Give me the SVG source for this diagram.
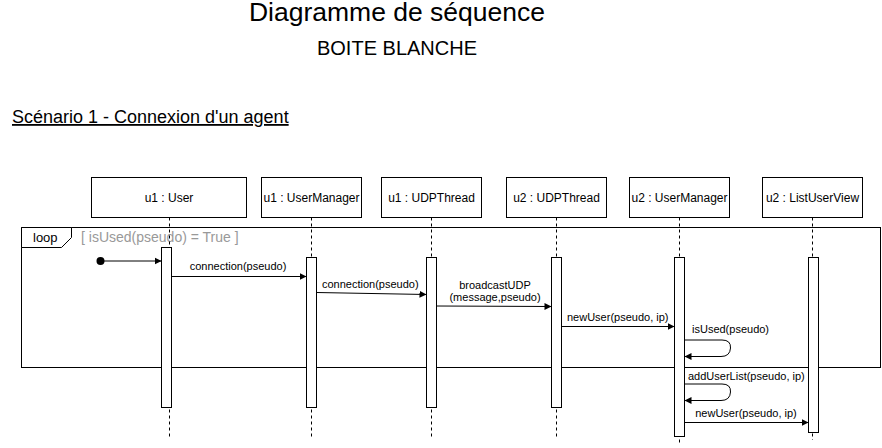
<svg xmlns="http://www.w3.org/2000/svg" width="882" height="448" viewBox="0 0 882 448">
<defs>
<style>
text{font-family:"Liberation Sans",Arial,Helvetica,sans-serif;fill:#000}
.box{fill:#fff;stroke:#000;stroke-width:1}
.life{stroke:#000;stroke-width:1;stroke-dasharray:3 3;fill:none}
.bar{fill:#fff;stroke:#000;stroke-width:1}
.nt{font-size:12px;text-anchor:middle}
.msg{stroke:#000;stroke-width:1;fill:none;marker-end:url(#ah)}
.ml{font-size:11px}
</style>
<marker id="ah" viewBox="0 0 8 8" refX="7" refY="4" markerWidth="8" markerHeight="8" markerUnits="userSpaceOnUse" orient="auto">
<path d="M0,0.5 L7,4 L0,7.5 Z" fill="#000"/>
</marker>
</defs>
<rect width="882" height="448" fill="#fff"/>
<text x="397" y="21" font-size="26.5" text-anchor="middle">Diagramme de séquence</text>
<text x="397" y="55" font-size="20" text-anchor="middle">BOITE BLANCHE</text>
<text x="12" y="123" font-size="18" text-decoration="underline">Scénario 1 - Connexion d'un agent</text>

<g id="frame-loop">
<rect x="21.5" y="227.5" width="859" height="140" fill="none" stroke="#000"/>
<path d="M21.5,227.5 L71.5,227.5 L71.5,237.5 L61.5,247.5 L21.5,247.5 Z" fill="#fff" stroke="#000"/>
<text x="33" y="242" font-size="13">loop</text>
<text x="81" y="242" font-size="14" style="fill:#999">[ isUsed(pseudo) = True ]</text>
</g>

<g id="u1-user">
<rect class="box" x="91.5" y="177.5" width="155" height="40"/>
<text class="nt" x="169" y="201.5">u1 : User</text>
<line class="life" x1="169.5" y1="217.5" x2="169.5" y2="437"/>
<rect class="bar" x="161.5" y="247.5" width="10" height="160"/>
</g>
<g id="u1-usermanager">
<rect class="box" x="261.5" y="177.5" width="100" height="40"/>
<text class="nt" x="311.5" y="201.5">u1 : UserManager</text>
<line class="life" x1="311.5" y1="217.5" x2="311.5" y2="437"/>
<rect class="bar" x="306.5" y="257.5" width="10" height="150"/>
</g>
<g id="u1-udpthread">
<rect class="box" x="381.5" y="177.5" width="100" height="40"/>
<text class="nt" x="431.5" y="201.5">u1 : UDPThread</text>
<line class="life" x1="431.5" y1="217.5" x2="431.5" y2="437"/>
<rect class="bar" x="426.5" y="257.5" width="10" height="150"/>
</g>
<g id="u2-udpthread">
<rect class="box" x="506.5" y="177.5" width="100" height="40"/>
<text class="nt" x="556.5" y="201.5">u2 : UDPThread</text>
<line class="life" x1="556.5" y1="217.5" x2="556.5" y2="437"/>
<rect class="bar" x="551.5" y="257.5" width="10" height="150"/>
</g>
<g id="u2-usermanager">
<rect class="box" x="629.5" y="177.5" width="100" height="40"/>
<text class="nt" x="679.5" y="201.5">u2 : UserManager</text>
<line class="life" x1="679.5" y1="217.5" x2="679.5" y2="444"/>
<rect class="bar" x="674.5" y="257.5" width="10" height="179"/>
</g>
<g id="u2-listuserview">
<rect class="box" x="762.5" y="177.5" width="100" height="40"/>
<text class="nt" x="812.5" y="201.5">u2 : ListUserView</text>
<line class="life" x1="812.5" y1="217.5" x2="812.5" y2="440"/>
<rect class="bar" x="808.5" y="257.5" width="10" height="175"/>
</g>

<g id="connectors">
<circle cx="100.5" cy="261" r="4" fill="#000"/>
<line class="msg" x1="100.5" y1="261" x2="161.5" y2="261"/>
<line class="msg" x1="171.5" y1="276.5" x2="306.5" y2="276.5"/>
<text class="ml" x="238" y="270" text-anchor="middle">connection(pseudo)</text>
<line class="msg" x1="316.5" y1="292.5" x2="426.5" y2="294.5"/>
<text class="ml" x="322" y="288">connection(pseudo)</text>
<line class="msg" x1="436.5" y1="306" x2="551.5" y2="306.5"/>
<text class="ml" x="495" y="289" text-anchor="middle">broadcastUDP</text>
<text class="ml" x="495" y="301" text-anchor="middle">(message,pseudo)</text>
<line class="msg" x1="561.5" y1="326.5" x2="674.5" y2="326.5"/>
<text class="ml" x="567" y="321">newUser(pseudo, ip)</text>
<path class="msg" d="M684.5,340 L722,340 Q731,340 730.5,348 Q730,356.5 721,356.5 L684.5,356.5"/>
<text class="ml" x="692" y="333">isUsed(pseudo)</text>
<path class="msg" d="M684.5,384 L722,384 Q731,384 730.5,392 Q730,400.5 721,400.5 L684.5,400.5"/>
<text class="ml" x="688" y="380">addUserList(pseudo, ip)</text>
<line class="msg" x1="684.5" y1="422.5" x2="808.5" y2="422.5"/>
<text class="ml" x="746" y="417" text-anchor="middle">newUser(pseudo, ip)</text>
</g>
</svg>
